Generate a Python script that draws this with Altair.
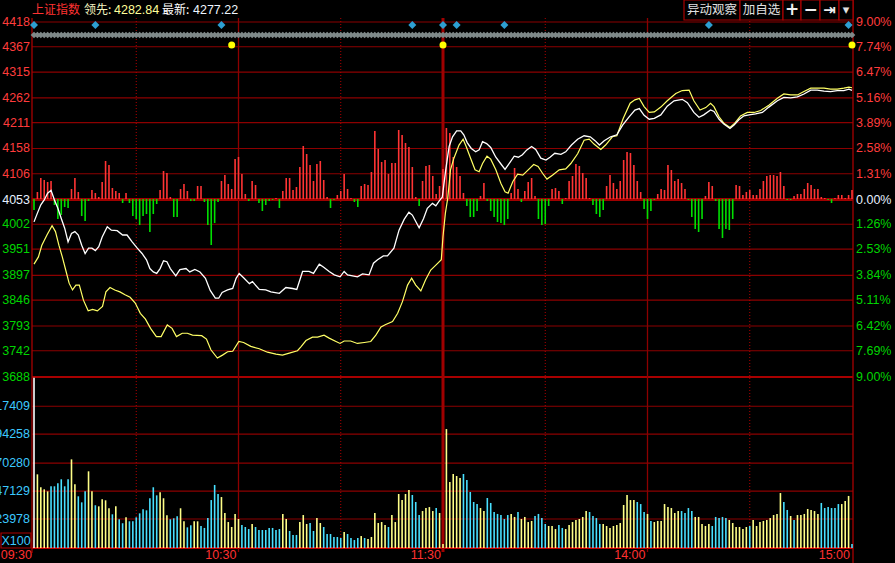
import altair as alt
import pandas as pd

# ---------------- data ----------------
price_ticks = [4418, 4367, 4315, 4262, 4211, 4158, 4106, 4053, 4002, 3951, 3897, 3846, 3793, 3742, 3688]
pct_labels = ["9.00%", "7.74%", "6.47%", "5.16%", "3.89%", "2.58%", "1.31%", "0.00%",
              "1.26%", "2.53%", "3.84%", "5.11%", "6.42%", "7.69%", "9.00%"]
prev_close = 4053
vol_ticks = [23978, 47129, 70280, 94258, 117409]
time_ticks = [0, 60, 120, 180, 240]
time_labels = ["09:30", "10:30", "11:30", "14:00", "15:00"]
solid_minutes = [60, 180]
dotted_minutes = [30, 90, 150, 210]
break_minute = [120]
event_minutes = [0, 18, 55, 111, 120, 124, 138, 198, 239]
alert_minutes = [58, 120, 240]

white_m = [0, 1, 2, 3, 4, 5, 6, 7, 8, 9, 10, 11, 12, 13, 14, 15, 16, 17, 18, 19, 20,
           21.5, 22.7, 24.4, 26, 27.3, 28.8, 30.3, 31.7, 33, 34,
           35, 36, 37, 38, 39, 40, 41.6, 42.8, 44.6, 45.7,
           47.2, 48.7, 50.3, 51.7, 53.2, 54.2, 55.2, 56.8, 58.3, 59.3,
           60.2, 61.5, 63.2, 64.1, 66.1, 68, 69.5, 72, 73.9, 75.9,
           77.1, 78.8, 80.7, 82, 83.7, 85.1, 86.6, 88.1, 89.8, 91,
           92, 94.9, 96.4, 98.3, 99.6, 100.8, 102.5, 103.7, 105.6, 107.1,
           108.6, 110, 111, 113, 114.3, 115.4, 116.9, 117.9, 118.9, 119.8,
           120.8, 121.8, 122.8, 124, 125.2, 126.1, 127.1, 128.3, 129.6, 130.6,
           131.6, 132.8, 134, 135.5, 137, 138.2, 139.4, 140.9, 142.1, 143.3,
           144.6, 146, 147.2, 148.7, 150.2, 151.4, 152.8, 154.6, 156, 157.7,
           159.5, 161.4, 163.2, 164.6, 165.9, 167.3, 169.2, 171, 172.7, 174.6,
           176.3, 177.6, 179, 180.5, 182, 183.9, 185.8, 187.8, 190.2, 191.7,
           193.6, 195.1, 196.5, 198.5, 199.5, 201, 202.4, 204.2, 205.4, 206.8,
           208.3, 209.8, 211.7, 213.7, 215.6, 218.1, 220, 222, 224, 225.9,
           227.9, 229.8, 231.8, 233.7, 235.7, 237.6, 239.1, 240]
white_p = [4007, 4025, 4042, 4052, 4066, 4072, 4052, 4035, 4014, 3994, 3966, 3983, 3987, 3980, 3959, 3942, 3953, 3953, 3948, 3956, 3976,
           3997, 3990, 3989, 3980, 3980, 3966, 3953, 3942, 3929, 3911,
           3904, 3901, 3911, 3927, 3925, 3911, 3896, 3909, 3911, 3904,
           3909, 3904, 3891, 3866, 3850, 3850, 3862, 3867, 3870, 3891,
           3901, 3892, 3880, 3884, 3868, 3867, 3863, 3860, 3872, 3870,
           3868, 3905, 3905, 3901, 3920, 3913, 3905, 3898, 3894, 3905,
           3898, 3894, 3900, 3898, 3922, 3929, 3937, 3937, 3953, 3990,
           4012, 4027, 4021, 3995, 4014, 4035, 4045, 4040, 4050, 4058,
           4114, 4162, 4182, 4194, 4194, 4186, 4170, 4158, 4151, 4155,
           4172, 4168, 4160, 4140, 4126, 4115, 4127, 4142, 4140, 4145,
           4155, 4162, 4156, 4138, 4134, 4140, 4148, 4146, 4151, 4165,
           4177, 4184, 4182, 4174, 4165, 4174, 4182, 4186, 4206, 4223,
           4237, 4240, 4226, 4218, 4220, 4227, 4245, 4256, 4259, 4252,
           4232, 4222, 4227, 4237, 4234, 4218, 4208, 4199, 4206, 4217,
           4225, 4227, 4229, 4232, 4243, 4256, 4263, 4262, 4264, 4270,
           4278, 4278, 4276, 4275, 4277, 4277, 4280, 4277.22]

yellow_m = [0, 1.3, 2.3, 3.8, 5.3, 6.3, 7.3, 8.3, 9.3, 10.3,
            11.3, 12.3, 13.3, 14.5, 15.9, 17.2, 18.6, 20.1, 21.1, 22.3,
            23.7, 25.2, 26.7, 28.2, 29.7, 31.2, 32.7, 34.2, 35.9, 37.3,
            39.1, 40.5, 41.8, 43.5, 45, 46.5, 49.2, 50.6, 51.9, 53.8,
            55.3, 56.8, 58.3, 60.1, 61.5, 63.6, 66.1, 68.5, 71, 72.9,
            74.9, 77.3, 78.3, 79.8, 81.7, 83.2, 85.1, 86.6, 88.6, 89.8,
            91, 92.9, 94.9, 96.9, 98.8, 100.3, 101.8, 103.2, 105.2, 106.7,
            108.1, 109.6, 110.8, 112, 113.5, 114.9, 116.4, 117.9, 119.5, 120,
            120.7, 121.4, 122.2, 123.2, 124.7, 125.9, 126.8, 128.1, 129.4, 130.6,
            131.6, 132.9, 134, 135.5, 137, 138.2, 139.1, 140.5, 141.9, 143.4,
            145, 146.6, 147.9, 149.2, 150.5, 152.1, 154.1, 156, 157.5, 159.5,
            161.4, 162.9, 164.3, 166.3, 167.7, 169.7, 171, 172.9, 174.9, 176.3,
            177.6, 179, 180.5, 182, 183.9, 185.8, 188.3, 190.2, 192.2, 193.6,
            195.4, 197.1, 198.5, 199.5, 201, 202.4, 204.2, 205.6, 207.3, 209.3,
            211.3, 213.2, 215.6, 218.1, 220, 222, 224, 225.9, 227.9, 229.8,
            231.8, 233.7, 235.7, 237.6, 239.1, 240]
yellow_p = [3920, 3935, 3959, 3980, 3999, 3987, 3959, 3935, 3908, 3881,
            3867, 3877, 3877, 3846, 3824, 3827, 3824, 3833, 3863, 3872,
            3867, 3863, 3857, 3852, 3840, 3819, 3807, 3788, 3771, 3771,
            3795, 3788, 3771, 3778, 3778, 3774, 3773, 3766, 3744, 3727,
            3733, 3740, 3741, 3761, 3759, 3751, 3746, 3739, 3735, 3733,
            3737, 3742, 3750, 3763, 3770, 3770, 3774, 3768, 3761, 3757,
            3762, 3762, 3757, 3759, 3761, 3774, 3791, 3796, 3802, 3819,
            3843, 3877, 3891, 3877, 3865, 3888, 3908, 3918, 3929, 3977,
            4025, 4056, 4114, 4138, 4165, 4177, 4162, 4138, 4114, 4110,
            4127, 4142, 4136, 4114, 4086, 4069, 4066, 4090, 4105, 4103,
            4114, 4125, 4121, 4107, 4095, 4103, 4114, 4116, 4127, 4147,
            4175, 4177, 4167, 4156, 4165, 4182, 4184, 4220, 4251, 4258,
            4261, 4244, 4232, 4233, 4243, 4256, 4271, 4277, 4278, 4256,
            4237, 4242, 4251, 4244, 4223, 4210, 4201, 4210, 4225, 4232,
            4232, 4236, 4247, 4261, 4270, 4268, 4268, 4275, 4282, 4282,
            4282, 4280, 4280, 4282, 4284, 4282.84]

# volume per minute (thousands, x100 shares), index = minute 0..240
volume_k = [141,
            61.0, 50.3, 48.6, 46.9, 51.1, 51.1, 53.6, 56.9, 51.1, 56.9,
            73.4, 52.7, 42.8, 37.8, 46.9, 63.5, 46.9, 35.4, 34.5, 40.3,
            39.5, 32.9, 27.9, 34.5, 23.8, 20.5, 25.4, 22.1, 22.1, 25.4,
            28.7, 32.0, 31.2, 41.2, 50.3, 43.6, 46.1, 41.2, 27.1, 23.8,
            24.6, 26.2, 32.9, 22.1, 17.1, 18.8, 22.1, 22.1, 18.2, 16.6,
            24.8, 39.7, 52.2, 44.7, 42.2, 29.0, 21.5, 17.4, 28.2, 24.0,
            19.0, 17.4, 15.7, 19.9, 17.4, 14.9, 14.9, 14.9, 16.6, 16.6,
            14.9, 15.7, 28.2, 24.0, 14.1, 10.8, 10.8, 21.5, 27.3, 19.9,
            20.7, 14.1, 24.8, 20.7, 17.4, 11.6, 11.6, 9.1, 9.1, 8.3,
            13.2, 11.6, 8.3, 6.6, 8.3, 9.9, 8.3, 7.5, 9.1, 29.0,
            20.7, 21.5, 19.0, 17.4, 27.3, 21.5, 44.7, 39.7, 44.7, 48.0,
            43.9, 38.1, 27.3, 30.6, 33.1, 33.9, 30.6, 33.1, 29.0, 3.3,
            98.5, 54.6, 61.3, 59.6, 58.0, 61.3, 56.3, 46.4, 38.1, 36.4,
            33.1, 30.6, 41.4, 37.3, 29.8, 28.2, 27.3, 24.0, 27.3, 28.2,
            25.7, 29.8, 24.0, 25.7, 21.5, 22.4, 26.5, 28.2, 24.8, 19.9,
            18.2, 18.2, 15.7, 19.0, 16.6, 15.7, 19.0, 21.5, 23.2, 24.0,
            25.7, 30.6, 29.8, 26.5, 24.8, 19.9, 19.9, 18.2, 16.6, 18.2,
            19.0, 20.7, 35.6, 43.9, 39.7, 39.7, 38.1,
            36.4, 29.8, 28.2, 22.4, 21.5, 22.4, 22.4, 36.4, 33.9, 33.1,
            29.0, 30.6, 30.6, 29.0, 33.1, 30.6, 25.7, 25.7, 19.9, 18.2,
            19.9, 18.2, 25.7, 24.8, 25.7, 24.8, 23.2, 20.7, 17.4, 17.4,
            15.7, 17.4, 18.2, 23.2, 18.2, 21.5, 22.4, 23.2, 24.8, 27.3,
            28.2, 45.5, 38.1, 31.5, 26.5, 23.2, 27.3, 27.3, 28.2, 32.3,
            31.5, 30.6, 28.2, 37.3, 33.1, 33.9, 33.1, 33.1, 36.4, 36.4,
            38.9, 43.1, 3.3]
volume_dir = list("W"
                  "YYYYCCCCCC" "YYCCCYYCYY" "YYCYCCYCCC" "CCCCCCYYYC" "CCYYCCYYCC"
                  "CCCCYYYYYY" "CCCYCCCCCC" "CCYYCCCYYY" "CCYYCCCCCC" "YCCCCYCYYY"
                  "YYYCYYYYYY" "CCCYYYYCYY" "YYYYYCCCCC" "YYCCCCCCCY" "YCYYYYCCCC"
                  "YYYCCYYYYY" "YYCCCCYYYY" "YYYYYYC"
                  "CCYCYYYYYY" "YYCCCCYYYY" "YCCCCCYYYY" "YYCYYYYYYY" "YYCCYCYYYY"
                  "YYYCCCCCCY" "YYC")

# red / green strength bars, index = minute 0..240
strength = [-11, 7, 21, 19, 17, 18, -6, -20, -16, -8,
            -9, 10, 21, 7, -17, -22, -2, 9, 6, 2,
            17, 38, 34, 11, 8, 6, -4, 6, -4, -17,
            -20, -26, -17, -15, -33, -15, -5, 9, 28, 26,
            2, -18, -18, 10, 15, 8, -2, -2, 13, 13,
            -3, -26, -46, -24, -3, 18, 24, 15, 10, 40,
            42, 25, 5, -2, 18, 14, -4, -12, -6, -2,
            -1, 1, -9, 8, 21, 21, 9, 12, 32, 53,
            45, 34, 18, 35, 38, 19, 2, -9, -1, 4,
            8, 25, 10, 1, -3, -8, 13, 15, 14, 27,
            68, 50, 37, 39, 25, 36, 36, 69, 64, 56,
            52, 32, 2, -7, 18, 33, 34, 23, 5, 13,
            30, 71, 66, 42, 32, 23, 6, -7, -18, -18,
            -12, 3, 16, -2, -12, -18, -23, -24, -26, -20,
            6, 31, 10, -3, 8, 17, 21, 3, -20, -26,
            -25, -7, 10, 11, 8, -5, 1, 18, 23, 35,
            33, 26, 21, 1, -6, -15, -18, -11, 13, 24,
            16, 10, 18, 39, 47, 46, 34, 18, 7, -10,
            -20, -12, -1, 5, 10, 9, 34, 29, 18, 20,
            16, 10, -1, -18, -30, -33, -20, 3, 17, 13,
            -2, -30, -39, -30, -31, -20, 14, 13, 4, 7,
            9, 4, 4, 10, 18, 23, 24, 24, 23, 27,
            13, -1, -1, 3, 5, 5, 10, 16, 14, 10,
            10, 2, 1, -1, -4, 1, 4, 4, 1, 4,
            9]

header_name = "上证指数"
lead_label, lead_value = "领先:", "4282.84"
last_label, last_value = "最新:", "4277.22"

# ---------------- frames ----------------
minutes = list(range(len(volume_k)))
df_min = pd.DataFrame({"m": minutes, "v": volume_k, "d": volume_dir, "s": strength})
df_white = pd.DataFrame({"m": white_m, "p": white_p})
df_yellow = pd.DataFrame({"m": yellow_m, "p": yellow_p})
df_ticks = pd.DataFrame({"p": price_ticks, "pct": pct_labels})
df_ticks["lab"] = df_ticks["p"].astype(str)
df_ticks["c"] = ["up" if p > prev_close else ("flat" if p == prev_close else "down") for p in price_ticks]
df_vt = pd.DataFrame({"t": vol_ticks})
df_vt["v"] = df_vt["t"] / 1000.0
df_vt["lab"] = df_vt["t"].astype(str)
df_time = pd.DataFrame({"m": time_ticks, "lab": time_labels})

# ---------------- scales (pixel layout of the panels) ----------------
xs = alt.Scale(domain=[0, 240], range=[34, 852], nice=False, zero=False)
ps = alt.Scale(domain=[3688, 4418], range=[377, 22], nice=False, zero=False)
vs = alt.Scale(domain=[0, 141.6], range=[548, 377], nice=False, zero=False)
rs = alt.Scale(domain=[-100, 100], range=[299, 99], nice=False, zero=False)
dir_scale = alt.Scale(domain=["up", "flat", "down"], range=["#ff3c3c", "#e6f0ff", "#00d400"])

GRID = "#8c0000"
BORDER = "#a80000"
NUMFONT = "Liberation Sans"
CJK = "Noto Sans CJK SC"

def X():
    return alt.X("m:Q", scale=xs, axis=None)

one = pd.DataFrame({"k": [0]})

def label(text, x, y, color, size=12, align="left", font=CJK, weight="normal"):
    return alt.Chart(one).mark_text(text=text, align=align, baseline="middle", color=color,
                                    fontSize=size, font=font, fontWeight=weight).encode(
        x=alt.value(x), y=alt.value(y))

def box(x0, x1, y0, y1, stroke=BORDER):
    return alt.Chart(one).mark_rect(fill="#000000", stroke=stroke, strokeWidth=1.2).encode(
        x=alt.value(x0), x2=alt.value(x1), y=alt.value(y0), y2=alt.value(y1))

layers = []

# horizontal grid lines (price panel)
layers.append(alt.Chart(df_ticks).mark_rule(color=GRID, strokeWidth=1.1).encode(
    y=alt.Y("p:Q", scale=ps, axis=None), x=alt.value(32), x2=alt.value(853)))
layers.append(alt.Chart(df_ticks[df_ticks.p == prev_close]).mark_rule(color="#a00000", strokeWidth=3).encode(
    y=alt.Y("p:Q", scale=ps, axis=None), x=alt.value(32), x2=alt.value(853)))
layers.append(alt.Chart(df_ticks[df_ticks.p == min(price_ticks)]).mark_rule(color=BORDER, strokeWidth=2).encode(
    y=alt.Y("p:Q", scale=ps, axis=None), x=alt.value(32), x2=alt.value(853)))
# volume grid lines
layers.append(alt.Chart(df_vt).mark_rule(color=GRID, strokeWidth=1.1).encode(
    y=alt.Y("v:Q", scale=vs, axis=None), x=alt.value(32), x2=alt.value(853)))
layers.append(alt.Chart(one).mark_rule(color="#c00000", strokeWidth=2).encode(
    y=alt.Y("k:Q", scale=vs, axis=None), x=alt.value(32), x2=alt.value(853)))

# vertical lines
layers.append(alt.Chart(pd.DataFrame({"m": solid_minutes})).mark_rule(color=GRID, strokeWidth=1.3).encode(
    x=X(), y=alt.value(18), y2=alt.value(552)))
layers.append(alt.Chart(pd.DataFrame({"m": dotted_minutes})).mark_rule(color="#b00000", strokeWidth=1, strokeDash=[1, 2]).encode(
    x=X(), y=alt.value(18), y2=alt.value(548)))
layers.append(alt.Chart(pd.DataFrame({"m": break_minute})).mark_rule(color="#a00000", strokeWidth=3).encode(
    x=X(), y=alt.value(18), y2=alt.value(552)))
layers.append(alt.Chart(one).mark_rule(color=BORDER, strokeWidth=1.3).encode(
    x=alt.value(32), y=alt.value(18), y2=alt.value(553)))
layers.append(alt.Chart(one).mark_rule(color=BORDER, strokeWidth=1.3).encode(
    x=alt.value(853), y=alt.value(0), y2=alt.value(563)))

# red/green strength bars
layers.append(alt.Chart(df_min).transform_filter("datum.s != 0").mark_rule(strokeWidth=1.6).encode(
    x=X(), y=alt.Y("s:Q", scale=rs, axis=None), y2=alt.datum(0),
    color=alt.condition("datum.s > 0", alt.value("#ff3434"), alt.value("#00e000"))))

# volume bars
layers.append(alt.Chart(df_min).mark_rule(strokeWidth=1.6).encode(
    x=X(), y=alt.Y("v:Q", scale=vs, axis=None), y2=alt.datum(0),
    color=alt.Color("d:N", scale=alt.Scale(domain=["Y", "C", "W"], range=["#ffff88", "#48e0ff", "#ffffff"]), legend=None)))

# price lines
layers.append(alt.Chart(df_yellow).mark_line(color="#ffff66", strokeWidth=1.2).encode(
    x=X(), y=alt.Y("p:Q", scale=ps, axis=None)))
layers.append(alt.Chart(df_white).mark_line(color="#ffffff", strokeWidth=1.3).encode(
    x=X(), y=alt.Y("p:Q", scale=ps, axis=None)))

# marker strip on top
layers.append(alt.Chart(df_min).mark_point(shape="diamond", filled=True, size=45, color="#7f8989", opacity=1).encode(
    x=X(), y=alt.value(35)))
layers.append(alt.Chart(pd.DataFrame({"m": event_minutes})).mark_point(shape="diamond", filled=True, size=64, color="#2d9fd2", opacity=1).encode(
    x=X(), y=alt.value(25)))
layers.append(alt.Chart(pd.DataFrame({"m": alert_minutes})).mark_circle(size=49, color="#ffff00", opacity=1).encode(
    x=X(), y=alt.value(45)))

# axis labels
layers.append(alt.Chart(df_ticks).mark_text(align="right", baseline="middle", fontSize=12.5, font=NUMFONT).encode(
    y=alt.Y("p:Q", scale=ps, axis=None), x=alt.value(30), text="lab:N",
    color=alt.Color("c:N", scale=dir_scale, legend=None)))
layers.append(alt.Chart(df_ticks).mark_text(align="left", baseline="middle", fontSize=12.5, font=NUMFONT).encode(
    y=alt.Y("p:Q", scale=ps, axis=None), x=alt.value(856), text="pct:N",
    color=alt.Color("c:N", scale=dir_scale, legend=None)))
layers.append(alt.Chart(df_vt).mark_text(align="right", baseline="middle", fontSize=12.5, font=NUMFONT, color="#3cc8ff").encode(
    y=alt.Y("v:Q", scale=vs, axis=None), x=alt.value(30), text="lab:N"))
layers.append(alt.Chart(df_time).mark_text(align="right", baseline="middle", fontSize=12.5, font=NUMFONT, color="#ff3030", dx=-2).encode(
    x=X(), y=alt.value(555), text="lab:N"))

# X100 box
layers.append(box(1, 31, 533, 548))
layers.append(label("X100", 16, 541, "#3cc8ff", size=12.5, align="center", font=NUMFONT))

# header
layers.append(label(header_name, 32, 10, "#ff3232", size=12))
layers.append(label(lead_label, 84, 10, "#f4f4c0", size=12))
layers.append(label(lead_value, 114, 10, "#ffff99", size=12.5, font=NUMFONT))
layers.append(label(last_label, 162, 10, "#ffffff", size=12))
layers.append(label(last_value, 193, 10, "#eef6ff", size=12.5, font=NUMFONT))

# buttons
for (x0, x1) in [(684, 740), (740, 783), (783, 801), (801, 820), (820, 839), (839, 853)]:
    layers.append(box(x0, x1, 0, 20))
layers.append(label("异动观察", 712, 10, "#e0e0e0", size=12.5, align="center"))
layers.append(label("加自选", 761.5, 10, "#e0e0e0", size=12.5, align="center"))
layers.append(label("+", 792, 9.5, "#f0f0f0", size=17, align="center", font="DejaVu Sans", weight="bold"))
layers.append(label("−", 810.5, 9.5, "#f0f0f0", size=17, align="center", font="DejaVu Sans", weight="bold"))
layers.append(label("⇥", 829.5, 10, "#f0f0f0", size=15, align="center", font="DejaVu Sans", weight="bold"))
layers.append(label("▾", 846, 10, "#e0e0e0", size=13, align="center", font="DejaVu Sans"))

chart = alt.layer(*layers).resolve_scale(y="independent", color="independent").properties(
    width=895, height=563, padding=0, background="#000000",
    autosize=alt.AutoSizeParams(type="none"),
).configure_view(stroke=None)

chart.save("out.html", embed_options={
    "renderer": "svg", "actions": False,
    "defaultStyle": "html,body{margin:0;padding:0;background:#000;overflow:hidden}"})
